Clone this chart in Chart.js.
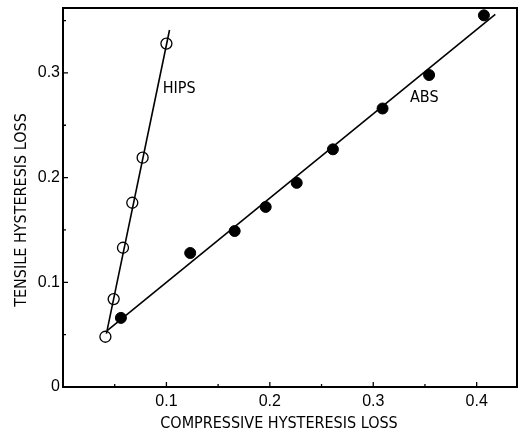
<!DOCTYPE html>
<html>
<head>
<meta charset="utf-8">
<script src="https://cdn.jsdelivr.net/npm/chart.js@4/dist/chart.umd.min.js"></script>
<style>
  body { margin: 0; background: #fff; }
  #wrap { width: 518px; height: 434px; }
</style>
</head>
<body>
<div id="wrap"><canvas id="chart" width="518" height="434"></canvas></div>
<script>
// measured points
var hipsX = [0.041, 0.049, 0.058, 0.067, 0.077, 0.100];
var hipsY = [0.048, 0.084, 0.133, 0.176, 0.219, 0.328];
var absX = [0.056, 0.123, 0.166, 0.196, 0.226, 0.261, 0.309, 0.354, 0.407];
var absY = [0.066, 0.128, 0.149, 0.172, 0.195, 0.227, 0.266, 0.298, 0.355];

// fitted lines (end points)
var hipsLineX = [0.042, 0.103];
var hipsLineY = [0.051, 0.341];
var absLineX = [0.043, 0.418];
var absLineY = [0.054, 0.356];

var xTicks = [0, 0.05, 0.1, 0.15, 0.2, 0.25, 0.3, 0.35, 0.4];
var yTicks = [0, 0.05, 0.1, 0.15, 0.2, 0.25, 0.3, 0.35];

var curveLabels = [
  { text: 'HIPS', x: 0.0964, y: 0.285 },
  { text: 'ABS', x: 0.3355, y: 0.276 }
];

var xTitle = 'COMPRESSIVE HYSTERESIS LOSS';
var yTitle = 'TENSILE HYSTERESIS LOSS';

var narrow = '"Liberation Sans Narrow", "DejaVu Sans Condensed", sans-serif';

function pts(xs, ys) {
  var out = [];
  for (var i = 0; i < xs.length; i++) out.push({ x: xs[i], y: ys[i] });
  return out;
}

function isMajor(v) {
  return Math.abs(v * 10 - Math.round(v * 10)) < 1e-6;
}

var framePlugin = {
  id: 'frame',
  afterDraw: function (chart) {
    var ctx = chart.ctx;
    var a = chart.chartArea;
    var sx = chart.scales.x, sy = chart.scales.y;
    ctx.save();
    ctx.strokeStyle = '#000';
    ctx.lineWidth = 2;
    ctx.strokeRect(a.left, a.top, a.right - a.left, a.bottom - a.top);

    // inward ticks
    ctx.lineWidth = 1.3;
    ctx.beginPath();
    xTicks.forEach(function (v) {
      if (v === 0) return;
      var px = sx.getPixelForValue(v);
      var len = isMajor(v) ? 5 : 3;
      ctx.moveTo(px, a.bottom);
      ctx.lineTo(px, a.bottom - len);
    });
    yTicks.forEach(function (v) {
      if (v === 0) return;
      var py = sy.getPixelForValue(v);
      var len = isMajor(v) ? 5 : 3;
      ctx.moveTo(a.left, py);
      ctx.lineTo(a.left + len, py);
    });
    ctx.stroke();

    // curve labels
    ctx.fillStyle = '#000';
    ctx.font = '16px ' + narrow;
    ctx.textAlign = 'left';
    ctx.textBaseline = 'middle';
    curveLabels.forEach(function (l) {
      ctx.fillText(l.text, sx.getPixelForValue(l.x), sy.getPixelForValue(l.y));
    });

    // axis titles
    ctx.textAlign = 'center';
    ctx.fillText(xTitle, 279, 424);
    ctx.translate(22, 210);
    ctx.rotate(-Math.PI / 2);
    ctx.fillText(yTitle, 0, 0);
    ctx.restore();
  }
};

new Chart(document.getElementById('chart'), {
  type: 'scatter',
  data: {
    datasets: [
      {
        label: 'HIPS fit',
        type: 'line',
        data: pts(hipsLineX, hipsLineY),
        borderColor: '#000',
        borderWidth: 1.6,
        pointRadius: 0,
        fill: false
      },
      {
        label: 'ABS fit',
        type: 'line',
        data: pts(absLineX, absLineY),
        borderColor: '#000',
        borderWidth: 1.6,
        pointRadius: 0,
        fill: false
      },
      {
        label: 'HIPS',
        data: pts(hipsX, hipsY),
        pointRadius: 5.5,
        pointBackgroundColor: '#fff',
        pointBorderColor: '#000',
        pointBorderWidth: 1.3
      },
      {
        label: 'ABS',
        data: pts(absX, absY),
        pointRadius: 5.5,
        pointBackgroundColor: '#000',
        pointBorderColor: '#000',
        pointBorderWidth: 1
      }
    ]
  },
  options: {
    responsive: false,
    animation: false,
    layout: { autoPadding: false, padding: { top: 8, right: 1, left: 0, bottom: 0 } },
    plugins: { legend: { display: false }, tooltip: { enabled: false } },
    scales: {
      x: {
        type: 'linear',
        min: 0,
        max: 0.439,
        grid: { display: false, drawTicks: false },
        border: { display: false },
        afterBuildTicks: function (s) { s.ticks = xTicks.map(function (v) { return { value: v }; }); },
        afterFit: function (s) { s.height = 47; s.paddingLeft = 0; s.paddingRight = 0; },
        ticks: {
          autoSkip: false,
          maxRotation: 0,
          padding: 5,
          color: '#000',
          font: { family: '"Liberation Sans", sans-serif', size: 16 },
          callback: function (v) { return (v !== 0 && isMajor(v)) ? v.toFixed(1) : ''; }
        }
      },
      y: {
        type: 'linear',
        min: 0,
        max: 0.362,
        grid: { display: false, drawTicks: false },
        border: { display: false },
        afterBuildTicks: function (s) { s.ticks = yTicks.map(function (v) { return { value: v }; }); },
        afterFit: function (s) { s.width = 63; s.paddingTop = 0; s.paddingBottom = 0; },
        ticks: {
          autoSkip: false,
          padding: 3,
          color: '#000',
          font: { family: '"Liberation Sans", sans-serif', size: 16 },
          callback: function (v) {
            if (v === 0) return '0';
            return isMajor(v) ? v.toFixed(1) : '';
          }
        }
      }
    }
  },
  plugins: [framePlugin]
});
</script>
</body>
</html>
